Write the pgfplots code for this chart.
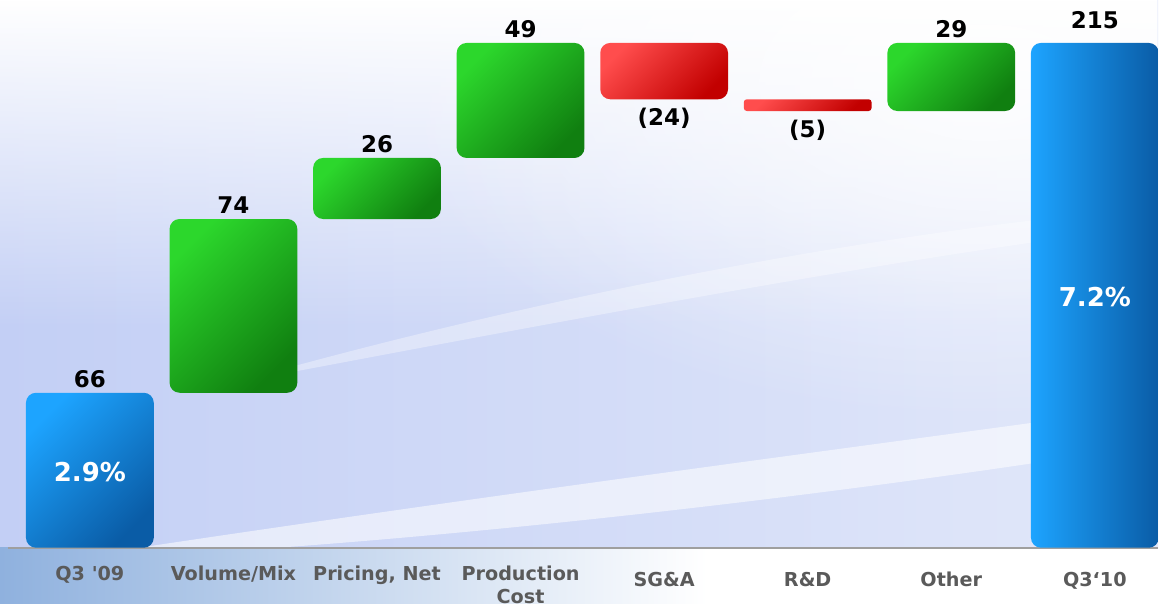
\documentclass[border=0pt]{standalone}
\usepackage{pgfplots}
\pgfplotsset{compat=1.18}
\usepackage{fontspec}
\setmainfont{DejaVu Sans}
\newfontfamily\nomap{DejaVu Sans}
\usetikzlibrary{fadings}
\tikzfading[name=fuzzy, inner color=transparent!0, outer color=transparent!100]

\definecolor{bgl}{HTML}{C3CFF5}
\definecolor{bgr}{HTML}{E2E8FA}
\definecolor{bandl}{HTML}{8FB1DE}
\definecolor{tickgray}{HTML}{5A5A5A}
\definecolor{blueA}{HTML}{1DA4FF}
\definecolor{blueB}{HTML}{0A5CA6}
\definecolor{greenA}{HTML}{2CD72C}
\definecolor{greenB}{HTML}{107F10}
\definecolor{redA}{HTML}{FF4D4D}
\definecolor{redB}{HTML}{C20000}

\begin{document}
\begin{tikzpicture}
\begin{axis}[
  set layers=standard,
  scale only axis, width=579.5pt, height=274pt,
  xmin=-0.626, xmax=7.44, ymin=0, ymax=233.2,
  clip=false,
  axis line style={draw=none}, major tick length=0pt, ytick=\empty,
  xtick={0,...,7},
  xticklabels={{\nomap Q3 '09}, Volume/Mix, {Pricing, Net}, {Production\\Cost},
    {\rule{0pt}{10.3pt}SG\&A}, {\rule{0pt}{10.3pt}R\&D}, {\rule{0pt}{10.3pt}Other}, {\rule{0pt}{10.3pt}Q3‘10}},
  xticklabel style={font=\fontsize{9.6}{11.5}\selectfont\bfseries, text=tickgray, align=center, anchor=north, yshift=-5.5pt},
  every node near coord/.append style={font=\fontsize{11.5}{13}\selectfont\bfseries, text=black},
  blue/.style={draw=none, rounded corners=5pt, top color=blueA, bottom color=blueB, shading angle=45},
  blueT/.style={draw=none, rounded corners=5pt, left color=blueA, right color=blueB},
  green/.style={draw=none, rounded corners=5pt, top color=greenA, bottom color=greenB, shading angle=45},
  red/.style={draw=none, rounded corners=5pt, top color=redA, bottom color=redB, shading angle=45},
]
\begin{pgfonlayer}{axis background}
\fill[left color=bgl, right color=bgr] (rel axis cs:0,0) rectangle (rel axis cs:1,1);
\fill[white, path fading=south] (rel axis cs:0,0.4) rectangle (rel axis cs:1,1);
\begin{scope}
\clip (rel axis cs:0,0) rectangle (rel axis cs:1,1);
\fill[white, path fading=fuzzy, opacity=0.8] (rel axis cs:0.85,0.85) ellipse [x radius=300pt, y radius=170pt];
\end{scope}
\fill[white, opacity=0.55] (rel axis cs:0.12,0) .. controls (rel axis cs:0.5,0.12) and (rel axis cs:0.8,0.2) .. (rel axis cs:1,0.26) -- (rel axis cs:1,0.19) .. controls (rel axis cs:0.8,0.12) and (rel axis cs:0.5,0.04) .. (rel axis cs:0.24,0) -- cycle;
\fill[white, opacity=0.35] (rel axis cs:0.2,0.3) .. controls (rel axis cs:0.45,0.45) and (rel axis cs:0.7,0.55) .. (rel axis cs:0.9,0.6) -- (rel axis cs:0.9,0.56) .. controls (rel axis cs:0.7,0.5) and (rel axis cs:0.45,0.4) .. (rel axis cs:0.2,0.3) -- cycle;
\fill[left color=bandl, right color=white] (axis cs:-0.626,-23.8) rectangle (axis cs:4.3,0);
\fill[white] (axis cs:4.3,-23.8) rectangle (axis cs:7.44,0);
\draw[gray!75, line width=1pt] (axis cs:-0.57,0) -- (axis cs:7.44,0);
\end{pgfonlayer}

% waterfall bars: (x-0.445, start) .. (x+0.445, end)
\addplot[blue]  coordinates {(-0.445,0) (0.445,0) (0.445,66) (-0.445,66)} --cycle;      % Q3 '09 = 66
\addplot[green] coordinates {(0.555,66) (1.445,66) (1.445,140) (0.555,140)} --cycle;    % +74
\addplot[green] coordinates {(1.555,140) (2.445,140) (2.445,166) (1.555,166)} --cycle;  % +26
\addplot[green] coordinates {(2.555,166) (3.445,166) (3.445,215) (2.555,215)} --cycle;  % +49
\addplot[red]   coordinates {(3.555,215) (4.445,215) (4.445,191) (3.555,191)} --cycle;  % -24
\addplot[red, rounded corners=1.5pt] coordinates {(4.555,191) (5.445,191) (5.445,186) (4.555,186)} --cycle;  % -5
\addplot[green] coordinates {(5.555,186) (6.445,186) (6.445,215) (5.555,215)} --cycle;  % +29
\addplot[blueT] coordinates {(6.555,0) (7.445,0) (7.445,215) (6.555,215)} --cycle;      % Q3'10 = 215

% value labels
\addplot[draw=none, mark=none, nodes near coords, point meta=explicit symbolic,
  every node near coord/.append style={anchor=south, yshift=-1pt}] coordinates {
  (0,66)[66] (1,140)[74] (2,166)[26] (3,215)[49] (6,215)[29]};
\addplot[draw=none, mark=none, nodes near coords, point meta=explicit symbolic,
  every node near coord/.append style={anchor=south, yshift=3.5pt}] coordinates {
  (7,215)[215]};
\addplot[draw=none, mark=none, nodes near coords, point meta=explicit symbolic,
  every node near coord/.append style={anchor=north, yshift=-1pt}] coordinates {
  (4,191)[(24)] (5,186)[(5)]};

\node[text=white, font=\fontsize{13}{15}\selectfont\bfseries] at (axis cs:0,32.3) {2.9\%};
\node[text=white, font=\fontsize{13}{15}\selectfont\bfseries] at (axis cs:7,106.8) {7.2\%};
\end{axis}
\end{tikzpicture}
\end{document}
